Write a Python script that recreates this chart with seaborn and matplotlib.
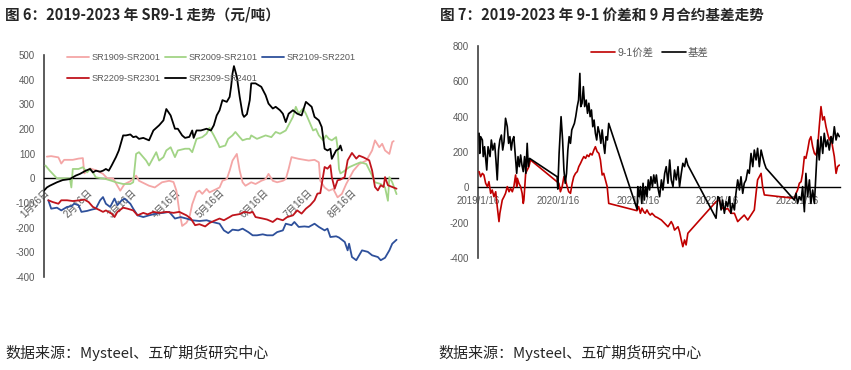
import pandas as pd
import matplotlib.pyplot as plt
import seaborn as sns

# estilo
sns.set_theme(style="white")
plt.rcParams['font.family'] = ['Liberation Sans', 'Noto Sans CJK SC']
plt.rcParams['axes.unicode_minus'] = False

# ---------- dados: figura 6 (dia desde 16/jan, valor) ----------
sr1909 = [(2, 88), (5, 90), (10, 85), (12, 60), (14, 75), (20, 75), (24, 80), (27, 82), (28, 20), (32, 40),
          (37, 31), (41, 18), (44, 0), (48, 0), (53, -50), (56, -23), (60, -12), (64, 11), (66, -10), (73, -30),
          (77, -37), (82, -16), (87, -10), (90, -15), (92, -50), (94, -132), (96, -193), (99, -180), (101, -159),
          (103, -105), (106, -57), (108, -50), (110, -63), (113, -43), (115, -57), (120, -43), (122, -37),
          (124, -10), (127, -3), (129, 31), (131, 72), (134, 99), (136, 31), (138, -16), (140, -30), (144, -16),
          (147, -23), (151, -10), (154, -3), (156, 18), (159, -10), (162, -16), (166, -10), (168, -3), (170, 38),
          (172, 86), (177, 79), (184, 72), (188, 75), (191, 65), (192, -10), (195, -37), (198, -50), (201, -43),
          (204, -77), (207, -63), (210, -23), (215, 31), (219, 58), (224, 72), (228, 113), (230, 154), (233, 126),
          (235, 140), (237, 113), (240, 99), (242, 147), (243, 151)]
sr2009 = [(1, 52), (4, 31), (9, 0), (13, 0), (18, 0), (19, -37), (20, 38), (24, 38), (27, 45), (30, 24),
          (32, 38), (34, 24), (36, 4), (40, 0), (43, -3), (47, -10), (50, -16), (55, -23), (60, -23), (62, -16),
          (64, 99), (66, 106), (71, 72), (73, 52), (78, 106), (80, 72), (83, 86), (85, 113), (88, 126), (91, 86),
          (93, 113), (98, 120), (101, 120), (103, 106), (106, 160), (110, 167), (113, 181), (115, 205), (118, 174),
          (121, 140), (122, 126), (126, 133), (128, 160), (131, 174), (133, 188), (136, 167), (138, 154),
          (141, 160), (143, 160), (144, 174), (148, 160), (151, 167), (154, 174), (158, 167), (161, 188),
          (164, 181), (168, 194), (173, 249), (175, 290), (177, 262), (180, 283), (182, 262), (184, 235),
          (187, 194), (189, 200), (191, 174), (194, 154), (196, 174), (198, 160), (200, 154), (203, 167),
          (204, 126), (205, 38), (206, 20), (208, 27), (212, 45), (217, 58), (220, 65), (224, 58), (228, 11),
          (230, -16), (234, -23), (237, -37), (239, -91), (240, 5), (242, -16), (245, -64)]
sr2109 = [(3, -89), (5, -123), (9, -119), (12, -130), (16, -116), (19, -113), (21, -103), (24, -109), (26, -136),
          (30, -132), (33, -127), (36, -123), (39, -89), (41, -76), (43, -103), (46, -116), (49, -82), (51, -109),
          (54, -89), (56, -82), (60, -103), (62, -123), (65, -150), (69, -157), (73, -150), (78, -143), (83, -140),
          (87, -136), (91, -163), (95, -157), (99, -163), (103, -170), (108, -173), (113, -170), (117, -177),
          (122, -184), (125, -211), (128, -222), (131, -208), (135, -211), (138, -204), (142, -218), (145, -231),
          (148, -231), (152, -227), (155, -231), (159, -231), (162, -218), (166, -211), (168, -184), (172, -190),
          (174, -177), (177, -197), (181, -195), (184, -197), (188, -184), (191, -197), (195, -211), (197, -204),
          (199, -238), (203, -235), (205, -240), (209, -258), (211, -292), (212, -265), (214, -319), (217, -332),
          (219, -312), (221, -292), (225, -298), (228, -312), (232, -319), (234, -332), (237, -322), (240, -292),
          (242, -265), (245, -249)]
sr2209 = [(3, -89), (6, -96), (10, -103), (12, -89), (16, -89), (20, -92), (25, -89), (28, -86), (31, -96),
          (34, -116), (38, -127), (41, -136), (43, -130), (47, -143), (49, -157), (51, -136), (55, -119),
          (58, -123), (62, -130), (65, -150), (69, -140), (72, -146), (76, -136), (80, -140), (85, -136),
          (90, -140), (94, -136), (99, -150), (102, -163), (105, -190), (108, -186), (112, -195), (115, -181),
          (118, -173), (122, -163), (125, -170), (129, -157), (131, -150), (136, -145), (139, -136), (143, -140),
          (145, -136), (147, -157), (152, -163), (155, -167), (159, -177), (162, -163), (166, -170), (169, -157),
          (173, -150), (176, -130), (179, -143), (182, -123), (185, -109), (188, -89), (190, -62), (192, -60),
          (195, 46), (197, 39), (199, 53), (200, 5), (202, -42), (204, -8), (206, -5), (209, 5), (211, 73),
          (213, 93), (214, 103), (217, 80), (219, 92), (222, 85), (226, 73), (228, 32), (230, -35), (232, -49),
          (234, -28), (236, -35), (237, 5), (239, -28), (242, -35), (245, -42)]
sr2309 = [(0, -50), (2, -37), (4, -30), (9, -16), (13, -7), (18, -3), (22, 11), (25, 18), (29, 31), (32, 38),
          (34, 24), (36, 31), (39, 27), (41, 31), (43, 38), (45, 31), (47, 52), (50, 86), (52, 113), (55, 174),
          (57, 174), (60, 178), (62, 167), (64, 170), (66, 160), (69, 164), (73, 154), (76, 194), (80, 215),
          (83, 235), (85, 281), (88, 255), (91, 201), (93, 201), (96, 174), (98, 164), (101, 168), (103, 194),
          (104, 164), (106, 194), (109, 194), (113, 201), (116, 194), (118, 215), (120, 255), (122, 276),
          (124, 317), (127, 310), (129, 330), (130, 371), (131, 425), (132, 455), (134, 412), (136, 330),
          (138, 260), (139, 249), (141, 260), (143, 317), (144, 385), (147, 385), (149, 378), (151, 371),
          (154, 337), (156, 303), (159, 283), (161, 290), (164, 276), (166, 262), (168, 228), (170, 262),
          (173, 276), (176, 262), (179, 255), (182, 310), (186, 290), (188, 249), (191, 235), (193, 208),
          (195, 120), (197, 113), (199, 120), (200, 79), (203, 113), (205, 120), (206, 133), (207, 113)]

left_names = ['SR1909-SR2001', 'SR2009-SR2101', 'SR2109-SR2201', 'SR2209-SR2301', 'SR2309-SR2401']
left_colors = ['#F4A6A6', '#A2D486', '#2E509B', '#C0141C', '#000000']
left_ticks = ['1月16日', '2月16日', '3月16日', '4月16日', '5月16日', '6月16日', '7月16日', '8月16日']

# ---------- dados: figura 7 (dias desde 2019/1/16, valor) ----------
spread_91 = [(5, 89), (12, 60), (20, 79), (27, 70), (35, 23), (43, 4), (50, 32), (58, -34), (65, -15), (73, -53),
             (81, -25), (88, -109), (96, -194), (100, -147), (111, -72), (119, -53), (126, -34), (134, 4),
             (142, -25), (149, -6), (157, -25), (164, 4), (172, 70), (177, 4), (180, 51), (187, 23), (195, 4),
             (202, -34), (207, -91), (210, -72), (218, 79), (225, 98), (233, 117), (240, 155), (370, 23),
             (377, -25), (385, 4), (393, 60), (400, 42), (408, 4), (415, -25), (423, -34), (431, 23), (438, 60),
             (446, 79), (454, 89), (461, 117), (469, 136), (476, 155), (484, 174), (492, 164), (499, 183),
             (507, 174), (514, 192), (522, 183), (530, 211), (537, 230), (545, 202), (553, 192), (560, 155),
             (568, 70), (575, 79), (583, 42), (591, 4), (598, -91), (727, -132), (735, -109), (743, -147),
             (750, -118), (758, -138), (765, -147), (773, -128), (781, -147), (788, -157), (796, -147),
             (804, -157), (811, -166), (819, -170), (826, -175), (839, -185), (854, -204), (869, -223),
             (884, -194), (892, -213), (899, -242), (915, -223), (922, -251), (930, -298), (937, -336),
             (945, -298), (952, -326), (960, -260), (1089, -81), (1104, -72), (1112, -109), (1127, -128),
             (1142, -119), (1157, -147), (1173, -147), (1188, -194), (1203, -175), (1218, -157), (1234, -185),
             (1249, -157), (1264, -128), (1272, -34), (1279, 42), (1287, 60), (1295, 79), (1302, 4), (1310, -43),
             (1447, -62), (1455, -34), (1462, -15), (1470, 23), (1478, 32), (1485, 79), (1493, 174), (1500, 164),
             (1508, 211), (1516, 268), (1523, 287), (1531, 230), (1539, 192), (1546, 183), (1554, 230),
             (1561, 343), (1569, 457), (1577, 381), (1584, 400), (1592, 343), (1599, 306), (1607, 268),
             (1615, 287), (1622, 230), (1630, 174), (1638, 79), (1645, 117), (1653, 126)]
basis = [(5, 306), (8, 192), (12, 287), (20, 268), (24, 174), (30, 230), (40, 98), (46, 230), (55, 174), (61, 268),
         (68, 211), (76, 249), (82, 155), (88, 42), (94, 211), (100, 268), (107, 296), (113, 211), (119, 259),
         (126, 391), (134, 343), (140, 249), (146, 287), (152, 211), (158, 268), (164, 287), (170, 192), (177, 79),
         (183, 174), (189, 117), (195, 183), (201, 126), (207, 89), (213, 174), (219, 79), (225, 249), (230, 117),
         (236, 164), (362, 60), (365, -10), (371, 192), (380, 400), (387, 268), (393, 98), (399, 23), (405, 79),
         (411, 211), (417, 287), (423, 249), (429, 325), (435, 343), (441, 362), (447, 400), (454, 457),
         (460, 494), (466, 645), (470, 457), (476, 476), (482, 570), (488, 457), (495, 494), (501, 419),
         (507, 476), (513, 400), (519, 438), (525, 343), (531, 381), (537, 306), (543, 268), (549, 343),
         (556, 306), (562, 249), (568, 325), (574, 249), (580, 192), (586, 287), (592, 268), (598, 362),
         (728, -125), (731, 4), (737, -53), (743, 4), (749, -91), (755, 23), (761, -72), (767, 4), (773, -53),
         (779, 42), (785, -15), (791, 60), (798, 4), (804, 70), (810, 23), (816, 70), (822, 4), (831, -53),
         (839, 42), (846, -15), (854, 79), (861, 117), (869, 23), (877, 155), (884, 42), (892, 4), (899, 98),
         (907, 42), (915, 117), (922, 4), (930, 79), (937, 136), (945, 117), (952, 164), (960, 126),
         (1089, -175), (1097, -53), (1104, -60), (1112, -128), (1119, -72), (1127, -147), (1135, -81),
         (1142, -109), (1150, -53), (1157, -147), (1165, -91), (1173, -128), (1180, -34), (1188, 42),
         (1196, -15), (1203, 60), (1211, -34), (1218, 23), (1226, 42), (1234, 98), (1241, 79), (1249, 192),
         (1257, 117), (1264, 211), (1272, 155), (1279, 221), (1287, 117), (1295, 211), (1302, 174), (1310, 136),
         (1318, 108), (1447, -72), (1455, -34), (1462, -91), (1470, -53), (1478, -72), (1485, 4), (1493, -138),
         (1500, 79), (1508, -53), (1516, 42), (1523, -91), (1531, -15), (1539, -91), (1546, 79), (1554, 268),
         (1561, 155), (1569, 287), (1577, 192), (1584, 306), (1592, 230), (1599, 268), (1607, 211), (1615, 287),
         (1622, 249), (1630, 343), (1638, 268), (1645, 306), (1653, 287)]

right_names = ['9-1价差', '基差']
right_colors = ['#C00000', '#000000']
right_ticks = ['2019/1/16', '2020/1/16', '2021/1/16', '2022/1/16', '2023/1/16']

start = pd.Timestamp('2019-01-16')


def to_long(series_list, names):
    frames = []
    for name, pairs in zip(names, series_list):
        df = pd.DataFrame(pairs, columns=['x', 'value'])
        df['series'] = name
        frames.append(df)
    return pd.concat(frames, ignore_index=True)


left_df = to_long([sr1909, sr2009, sr2109, sr2209, sr2309], left_names)
right_df = to_long([spread_91, basis], right_names)
right_df['x'] = start + pd.to_timedelta(right_df['x'], unit='D')

gray = '#595959'
fig = plt.figure(figsize=(8.51, 3.70), dpi=100)
ax1 = fig.add_axes([44 / 851, 1 - 277 / 370, (398 - 44) / 851, (277 - 55) / 370])
ax2 = fig.add_axes([478 / 851, 1 - 258 / 370, (840 - 478) / 851, (258 - 46) / 370])

# ---------- figura 6 ----------
sns.lineplot(data=left_df, x='x', y='value', hue='series', hue_order=left_names,
             palette=dict(zip(left_names, left_colors)), estimator=None, sort=False,
             linewidth=1.3, ax=ax1, zorder=3)

# ---------- figura 7 ----------
sns.lineplot(data=right_df, x='x', y='value', hue='series', hue_order=right_names,
             palette=dict(zip(right_names, right_colors)), estimator=None, sort=False,
             linewidth=1.2, ax=ax2, zorder=3)

for ax in (ax1, ax2):
    ax.set_xlabel('')
    ax.set_ylabel('')
    ax.spines['top'].set_visible(False)
    ax.spines['right'].set_visible(False)
    ax.spines['bottom'].set_position(('data', 0))
    ax.spines['bottom'].set_color('black')
    ax.spines['bottom'].set_linewidth(1.0)
    ax.spines['left'].set_color('#404040')
    ax.spines['left'].set_linewidth(1.2)
    ax.tick_params(axis='both', direction='out', length=3, width=0.8, colors='#404040',
                   labelcolor=gray, labelsize=7)

ax1.tick_params(axis='x', labelrotation=45)
ax1.set_xlim(0, 246)
ax1.set_ylim(-400, 500)
ax1.set_yticks(range(-400, 501, 100))
ax1.set_xticks([i * 30.5 for i in range(len(left_ticks))])
ax1.set_xticklabels(left_ticks)
for lab in ax1.get_xticklabels():
    lab.set_rotation(45)
    lab.set_ha('right')
    lab.set_rotation_mode('anchor')

ax2.set_xlim(start, start + pd.Timedelta(days=1656))
ax2.set_ylim(-400, 800)
ax2.set_yticks(range(-400, 801, 200))
ax2.set_xticks(pd.to_datetime(['2019-01-16', '2020-01-16', '2021-01-16', '2022-01-16', '2023-01-16']))
ax2.set_xticklabels(right_ticks)

# legendas (ordem por linha, como no original)
h, l = ax1.get_legend_handles_labels()
order = [0, 3, 1, 4, 2]
ax1.legend([h[i] for i in order], [l[i] for i in order], ncol=3, loc='upper center',
           bbox_to_anchor=(0.473, 1.045), frameon=False, fontsize=6.6, handlelength=2.3,
           handletextpad=0.3, columnspacing=0.5, labelspacing=1.25, labelcolor=gray)
h, l = ax2.get_legend_handles_labels()
ax2.legend(h, l, ncol=2, loc='upper center', bbox_to_anchor=(0.475, 1.035), frameon=False,
           fontsize=7.5, handlelength=2.3, handletextpad=0.2, columnspacing=0.8, labelcolor=gray)

# títulos e fontes
fig.text(5 / 851, 1 - 15 / 370, '图 6：2019-2023 年 SR9-1 走势（元/吨）', fontsize=10.5,
         fontweight='bold', family=['Noto Sans CJK SC'], va='center')
fig.text(440 / 851, 1 - 15 / 370, '图 7：2019-2023 年 9-1 价差和 9 月合约基差走势', fontsize=10.5,
         fontweight='bold', family=['Noto Sans CJK SC'], va='center')
fig.text(5 / 851, 1 - 353 / 370, '数据来源：Mysteel、五矿期货研究中心', fontsize=10.8,
         family=['Noto Sans CJK SC'], va='center')
fig.text(438 / 851, 1 - 353 / 370, '数据来源：Mysteel、五矿期货研究中心', fontsize=10.8,
         family=['Noto Sans CJK SC'], va='center')

fig.savefig('out.png', dpi=100)
